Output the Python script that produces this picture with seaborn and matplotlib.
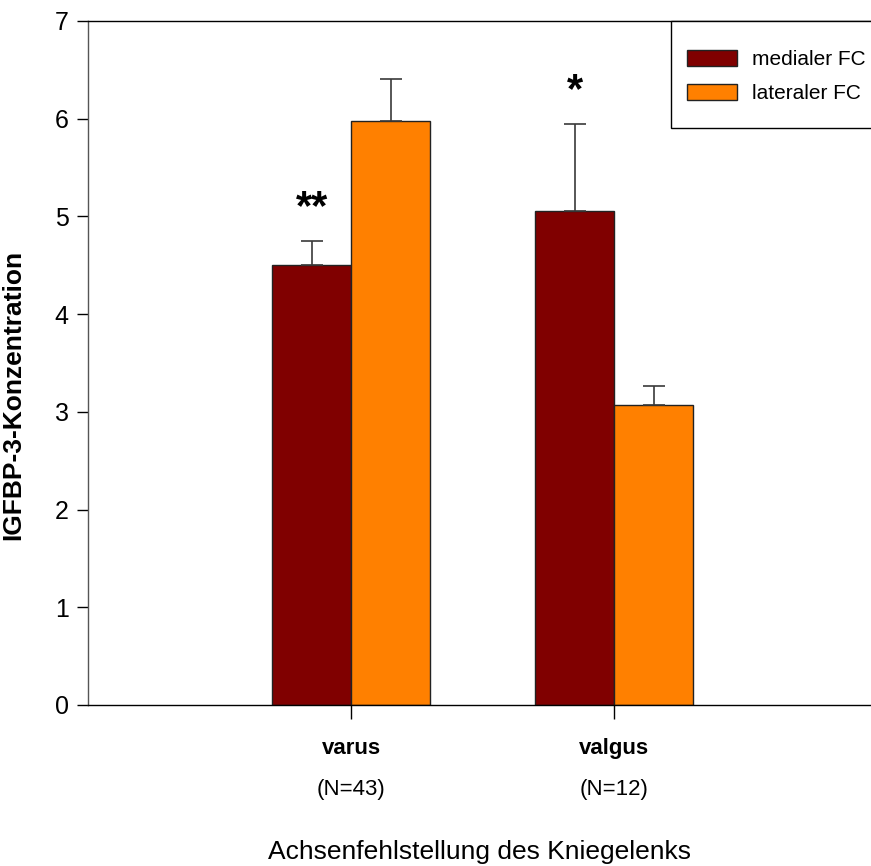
import matplotlib
matplotlib.use("Agg")
import matplotlib.pyplot as plt
import matplotlib.transforms as mtransforms
from matplotlib.patches import Rectangle
import seaborn as sns
import pandas as pd

# data
groups = ["varus", "valgus"]
group_n = ["(N=43)", "(N=12)"]
sites = ["medialer FC", "lateraler FC"]
medial_mean = [4.50, 5.06]
lateral_mean = [5.98, 3.07]
medial_err = [0.25, 0.89]
lateral_err = [0.43, 0.19]
stars = ["**", "*"]          # over the medial bars

colors = ["#800000", "#FF8000"]

sns.set_style("white")
plt.rcParams["font.family"] = ["Liberation Sans", "DejaVu Sans"]
plt.rcParams["text.color"] = "black"
plt.rcParams["axes.labelcolor"] = "black"
plt.rcParams["xtick.color"] = "black"
plt.rcParams["ytick.color"] = "black"

df = pd.DataFrame({
    "group": groups * 2,
    "site": [sites[0]] * 2 + [sites[1]] * 2,
    "value": medial_mean + lateral_mean,
    "err": medial_err + lateral_err,
})

fig = plt.figure(figsize=(8.71, 8.66), dpi=100)
ax = fig.add_axes([88 / 871, 1 - 705 / 866, 1 - 88 / 871, (705 - 21) / 866])

sns.barplot(data=df, x="group", y="value", hue="site", order=groups, hue_order=sites,
            palette=colors, saturation=1, width=0.6, errorbar=None,
            edgecolor="#222222", linewidth=1, ax=ax)

# upper error bars only, taken from the drawn bars
for patch, (_, row) in zip(ax.patches, df.iterrows()):
    xc = patch.get_x() + patch.get_width() / 2
    ax.errorbar(xc, row["value"], yerr=[[0], [row["err"]]], fmt="none",
                ecolor="#3a3a3a", elinewidth=1.2, capsize=8, capthick=1.2, zorder=1)

for i, s in enumerate(stars):
    patch = ax.patches[i]
    xc = patch.get_x() + patch.get_width() / 2
    ax.text(xc, medial_mean[i] + medial_err[i] + 0.22, s, ha="center", va="baseline",
            fontsize=30, fontweight="bold")

ax.set_xlim(-1, 1.975)
ax.set_ylim(0, 7)
ax.set_yticks(range(8))
ax.tick_params(axis="y", direction="out", length=8, width=1, labelsize=18, pad=6, left=True)
ax.tick_params(axis="x", direction="out", length=10, width=1, pad=14, bottom=True)
ax.set_xticks([0, 1])
ax.set_xticklabels(groups, fontsize=16, fontweight="bold")

trans = mtransforms.blended_transform_factory(ax.transData, ax.transAxes)
for i, n in enumerate(group_n):
    ax.annotate(n, (i, 0), xycoords=trans, xytext=(0, -61), textcoords="offset points",
                ha="center", va="center", fontsize=16)

ax.set_xlabel("Achsenfehlstellung des Kniegelenks", fontsize=19, labelpad=58)
ax.set_ylabel("IGFBP-3-Konzentration", fontsize=19, fontweight="bold")
ax.yaxis.set_label_coords((25 - 88) / 783, (705 - 395) / 684)

for side in ["left", "bottom", "top"]:
    ax.spines[side].set_visible(True)
    ax.spines[side].set_color("black")
    ax.spines[side].set_linewidth(1)
ax.spines["left"].set_color("#555555")
ax.spines["right"].set_visible(False)

# legend: frameless entries plus a square box that runs past the right edge
leg = ax.legend(loc="center left", bbox_to_anchor=((687 - 88) / 783, (705 - 76.5) / 684),
                fontsize=15, frameon=False, handlelength=2.4, handleheight=0.85,
                borderpad=0, labelspacing=0.7, handletextpad=0.7, borderaxespad=0)
box_bottom = (705 - 128) / 684
ax.add_patch(Rectangle(((671 - 88) / 783, box_bottom), 0.3, 1 - box_bottom,
                       transform=ax.transAxes, fill=True, facecolor="white",
                       edgecolor="black", linewidth=1, clip_on=False, zorder=4))
leg.set_zorder(5)

fig.savefig("out.png", dpi=100)
